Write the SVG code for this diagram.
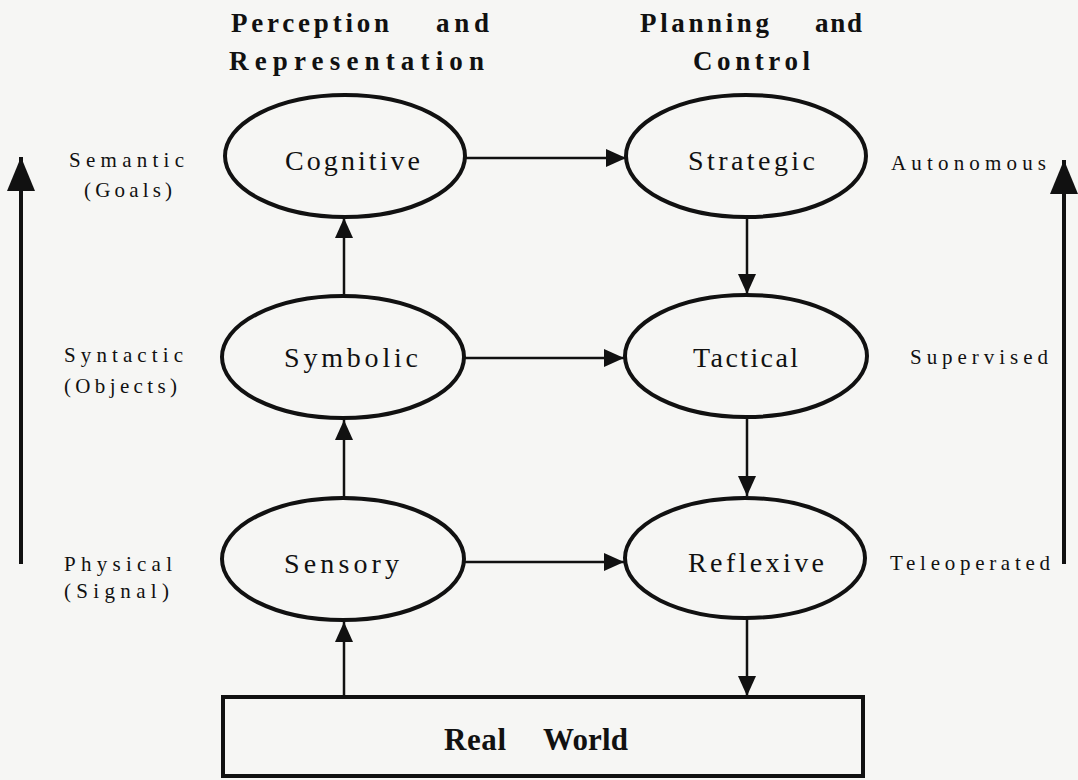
<svg xmlns="http://www.w3.org/2000/svg" width="1078" height="780" viewBox="0 0 1078 780">
<style>
.bg{fill:#f6f6f4}
.node{fill:none;stroke:#111;stroke-width:4}
.lbl{font-family:"Liberation Serif","Times New Roman",serif;fill:#111}
.nl{font-size:28px}
.sl{font-size:21px}
.hd{font-size:27px;font-weight:bold}
.rw{font-size:31px;font-weight:bold}
.c{stroke:#111;stroke-width:2.5;fill:none}
.big{stroke:#111;stroke-width:4;fill:none}
</style>
<defs>
<marker id="ah" viewBox="0 0 20 18" refX="20" refY="9" markerWidth="20" markerHeight="18" markerUnits="userSpaceOnUse" orient="auto">
<path d="M0,0 L20,9 L0,18 Z" fill="#111"/>
</marker>
<marker id="bh" viewBox="0 0 34 28" refX="34" refY="14" markerWidth="34" markerHeight="28" markerUnits="userSpaceOnUse" orient="auto">
<path d="M0,0 L34,14 L0,28 Z" fill="#111"/>
</marker>
</defs>
<rect class="bg" x="0" y="0" width="1078" height="780"/>

<g id="headers">
<text class="lbl hd" x="231" y="32" textLength="158" lengthAdjust="spacing">Perception</text>
<text class="lbl hd" x="436" y="32" textLength="53" lengthAdjust="spacing">and</text>
<text class="lbl hd" x="229" y="70" textLength="255" lengthAdjust="spacing">Representation</text>
<text class="lbl hd" x="640" y="32" textLength="129" lengthAdjust="spacing">Planning</text>
<text class="lbl hd" x="815" y="32" textLength="47" lengthAdjust="spacing">and</text>
<text class="lbl hd" x="693" y="70" textLength="117" lengthAdjust="spacing">Control</text>
</g>

<g id="side-labels">
<text class="lbl sl" x="69" y="167" textLength="115" lengthAdjust="spacing">Semantic</text>
<text class="lbl sl" x="84" y="197" textLength="88" lengthAdjust="spacing">(Goals)</text>
<text class="lbl sl" x="64" y="362" textLength="119" lengthAdjust="spacing">Syntactic</text>
<text class="lbl sl" x="64" y="393" textLength="113" lengthAdjust="spacing">(Objects)</text>
<text class="lbl sl" x="64" y="571" textLength="108" lengthAdjust="spacing">Physical</text>
<text class="lbl sl" x="64" y="598" textLength="105" lengthAdjust="spacing">(Signal)</text>
<text class="lbl sl" x="891" y="170" textLength="155" lengthAdjust="spacing">Autonomous</text>
<text class="lbl sl" x="910" y="364" textLength="138" lengthAdjust="spacing">Supervised</text>
<text class="lbl sl" x="890" y="570" textLength="160" lengthAdjust="spacing">Teleoperated</text>
</g>

<g id="connectors">
<line class="c" x1="465" y1="158" x2="626" y2="158" marker-end="url(#ah)"/>
<line class="c" x1="463" y1="358" x2="624" y2="358" marker-end="url(#ah)"/>
<line class="c" x1="463" y1="562" x2="624" y2="562" marker-end="url(#ah)"/>
<line class="c" x1="344" y1="295" x2="344" y2="218" marker-end="url(#ah)"/>
<line class="c" x1="344" y1="498" x2="344" y2="420" marker-end="url(#ah)"/>
<line class="c" x1="344" y1="695" x2="344" y2="622" marker-end="url(#ah)"/>
<line class="c" x1="747" y1="217" x2="747" y2="294" marker-end="url(#ah)"/>
<line class="c" x1="747" y1="417" x2="747" y2="496" marker-end="url(#ah)"/>
<line class="c" x1="747" y1="618" x2="747" y2="696" marker-end="url(#ah)"/>
<line class="big" x1="21" y1="564" x2="21" y2="157" marker-end="url(#bh)"/>
<line class="big" x1="1064" y1="564" x2="1064" y2="160" marker-end="url(#bh)"/>
</g>

<g id="cognitive">
<ellipse class="node" cx="345" cy="156" rx="120" ry="61"/>
<text class="lbl nl" x="285" y="170" textLength="135" lengthAdjust="spacing">Cognitive</text>
</g>
<g id="strategic">
<ellipse class="node" cx="746" cy="156" rx="120" ry="61"/>
<text class="lbl nl" x="688" y="170" textLength="127" lengthAdjust="spacing">Strategic</text>
</g>
<g id="symbolic">
<ellipse class="node" cx="343" cy="357" rx="121" ry="61"/>
<text class="lbl nl" x="284" y="367" textLength="134" lengthAdjust="spacing">Symbolic</text>
</g>
<g id="tactical">
<ellipse class="node" cx="746" cy="356" rx="121" ry="61"/>
<text class="lbl nl" x="693" y="367" textLength="105" lengthAdjust="spacing">Tactical</text>
</g>
<g id="sensory">
<ellipse class="node" cx="343" cy="559" rx="121" ry="61"/>
<text class="lbl nl" x="284" y="573" textLength="115" lengthAdjust="spacing">Sensory</text>
</g>
<g id="reflexive">
<ellipse class="node" cx="745" cy="558" rx="120" ry="60"/>
<text class="lbl nl" x="688" y="572" textLength="136" lengthAdjust="spacing">Reflexive</text>
</g>
<g id="real-world">
<rect class="node" x="223" y="697" width="640" height="79"/>
<text class="lbl rw" x="444" y="750" textLength="62" lengthAdjust="spacing">Real</text>
<text class="lbl rw" x="543" y="750" textLength="85" lengthAdjust="spacing">World</text>
</g>
</svg>
